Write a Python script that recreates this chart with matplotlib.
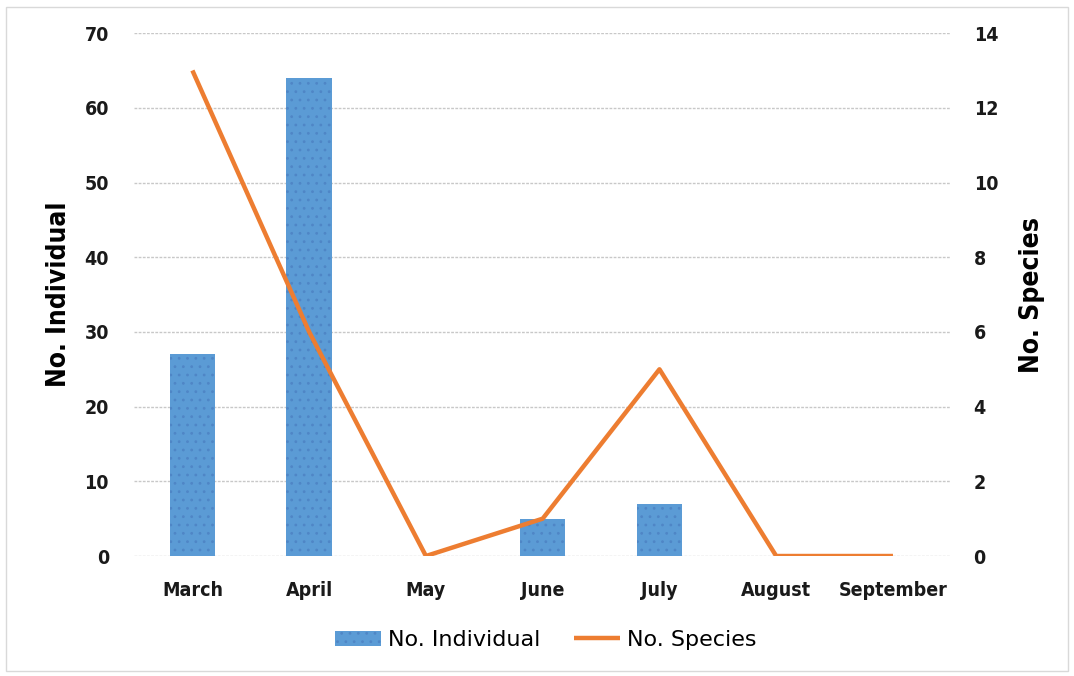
import matplotlib.pyplot as plt
import numpy as np
from matplotlib.patches import Rectangle

MONTHS = ["March", "April", "May", "June", "July", "August", "September"]
INDIVIDUALS = [27, 64, 0, 5, 7, 0, 0]
SPECIES = [13, 6, 0, 1, 5, 0, 0]

BLUE = "#5b9bd5"
ORANGE = "#ed7d31"

plt.rcParams["font.family"] = ["DejaVu Sans"]
plt.rcParams["font.stretch"] = "condensed"
plt.rcParams["hatch.color"] = "#4f86c6"
plt.rcParams["hatch.linewidth"] = 0.8


def main() -> None:
    fig = plt.figure(figsize=(10.74, 6.76), dpi=100, facecolor="white")
    ax = fig.add_axes([0.1248, 0.1775, 0.761, 0.7735])
    ax2 = ax.twinx()

    x = np.arange(len(MONTHS))
    bars = ax.bar(x, INDIVIDUALS, width=0.39, color=BLUE, hatch="..",
                  linewidth=0, label="No. Individual", zorder=2)
    line, = ax2.plot(x, SPECIES, color=ORANGE, linewidth=3.2,
                     label="No. Species", solid_capstyle="butt", zorder=3)

    ax.set_xlim(-0.5, len(MONTHS) - 0.5)
    ax.set_ylim(0, 70)
    ax.set_yticks(np.arange(0, 71, 10))
    ax2.set_ylim(0, 14)
    ax2.set_yticks(np.arange(0, 15, 2))

    ax.set_xticks(x, MONTHS)
    ax.grid(axis="y", color="#c8c8c8", linewidth=1, linestyle=(0, (2, 1)))
    ax.set_axisbelow(True)

    for a in (ax, ax2):
        for s in a.spines.values():
            s.set_visible(False)
        a.tick_params(length=0, labelsize=14)
        for lab in a.get_xticklabels() + a.get_yticklabels():
            lab.set_fontweight("bold")
            lab.set_color("#1a1a1a")
    ax.tick_params(axis="y", pad=18)
    ax2.tick_params(axis="y", pad=16)
    ax.tick_params(axis="x", pad=18)

    ax.set_ylabel("No. Individual", fontsize=19, fontweight="bold")
    ax2.set_ylabel("No. Species", fontsize=19, fontweight="bold")
    ax.yaxis.set_label_coords(-0.076, 0.5)
    ax2.yaxis.set_label_coords(1.083, 0.5)

    fig.legend([bars, line], ["No. Individual", "No. Species"], loc="center",
               bbox_to_anchor=(0.508, 0.053), ncol=2, frameon=False,
               prop={"size": 16, "stretch": "normal"},
               handlelength=2.1, handletextpad=0.3, columnspacing=1.5)

    fig.patches.append(Rectangle((0.006, 0.008), 0.988, 0.982,
                                 transform=fig.transFigure, fill=False,
                                 edgecolor="#d9d9d9", linewidth=1))

    fig.savefig("out.png", dpi=100)
    plt.close(fig)


if __name__ == "__main__":
    main()
